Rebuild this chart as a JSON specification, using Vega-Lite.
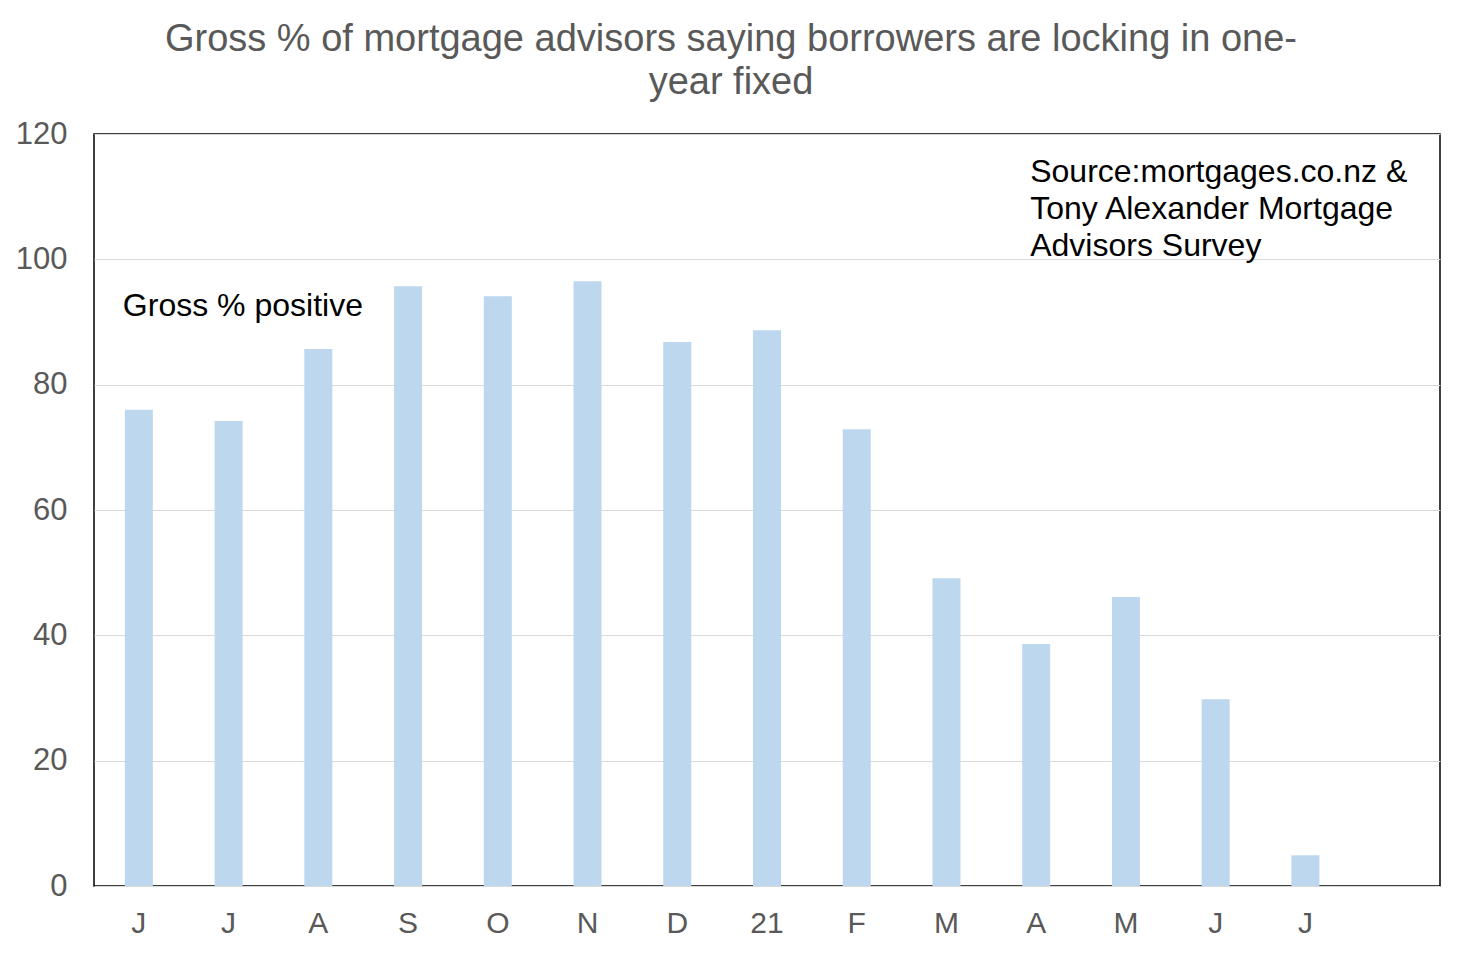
{
  "$schema": "https://vega.github.io/schema/vega-lite/v6.json",
  "width": 1346,
  "height": 752,
  "autosize": {"type": "none"},
  "padding": {"left": 94, "top": 134, "right": 22, "bottom": 68},
  "background": "white",
  "title": {
    "text": ["Gross % of mortgage advisors saying borrowers are locking in one-", "year fixed"],
    "font": "Liberation Sans",
    "fontSize": 38,
    "fontWeight": "normal",
    "color": "#595959",
    "lineHeight": 43,
    "anchor": "middle",
    "dx": -36,
    "offset": 16
  },
  "layer": [
    {
      "data": {
        "values": [
          {"month": "Jun 2020", "pct": 76.0},
          {"month": "Jul 2020", "pct": 74.2},
          {"month": "Aug 2020", "pct": 85.7},
          {"month": "Sep 2020", "pct": 95.7},
          {"month": "Oct 2020", "pct": 94.1},
          {"month": "Nov 2020", "pct": 96.5},
          {"month": "Dec 2020", "pct": 86.8},
          {"month": "Jan 2021", "pct": 88.7},
          {"month": "Feb 2021", "pct": 72.9},
          {"month": "Mar 2021", "pct": 49.1},
          {"month": "Apr 2021", "pct": 38.6},
          {"month": "May 2021", "pct": 46.1},
          {"month": "Jun 2021", "pct": 29.8},
          {"month": "Jul 2021", "pct": 4.9}
        ]
      },
      "mark": {"type": "bar", "color": "#bdd7ee"},
      "encoding": {
        "x": {
          "field": "month",
          "type": "ordinal",
          "sort": null,
          "title": null,
          "scale": {
            "domain": ["Jun 2020", "Jul 2020", "Aug 2020", "Sep 2020", "Oct 2020", "Nov 2020", "Dec 2020", "Jan 2021", "Feb 2021", "Mar 2021", "Apr 2021", "May 2021", "Jun 2021", "Jul 2021", "Aug 2021"],
            "paddingInner": 0.688,
            "paddingOuter": 0.344
          },
          "axis": {
            "labelExpr": "datum.value == 'Jan 2021' ? '21' : datum.value == 'Aug 2021' ? '' : substring(datum.value, 0, 1)",
            "labelAngle": 0,
            "labelFont": "Liberation Sans",
            "labelFontSize": 30,
            "labelColor": "#595959",
            "labelPadding": 22,
            "ticks": false,
            "domain": false,
            "grid": false
          }
        },
        "y": {
          "field": "pct",
          "type": "quantitative",
          "title": null,
          "scale": {"domain": [0, 120], "nice": false},
          "axis": {
            "values": [0, 20, 40, 60, 80, 100, 120],
            "labelFont": "Liberation Sans",
            "labelFontSize": 31,
            "labelColor": "#595959",
            "labelPadding": 27,
            "ticks": false,
            "domain": false,
            "gridColor": "#d9d9d9",
            "gridWidth": 1
          }
        }
      }
    },
    {
      "data": {
        "values": [
          {"month": "Jun 2020", "pct": 91, "note": "Gross % positive"}
        ]
      },
      "mark": {
        "type": "text",
        "align": "left",
        "baseline": "alphabetic",
        "font": "Liberation Sans",
        "fontSize": 32,
        "color": "black",
        "dx": -2
      },
      "encoding": {
        "x": {"field": "month", "type": "ordinal", "bandPosition": 0},
        "y": {"field": "pct", "type": "quantitative"},
        "text": {"field": "note"}
      }
    },
    {
      "data": {
        "values": [
          {"month": "Apr 2021", "pct": 112.3, "note": "Source:mortgages.co.nz  &\nTony Alexander  Mortgage\nAdvisors Survey"}
        ]
      },
      "mark": {
        "type": "text",
        "align": "left",
        "baseline": "alphabetic",
        "font": "Liberation Sans",
        "fontSize": 32,
        "lineHeight": 37,
        "lineBreak": "\n",
        "color": "black",
        "dx": 8
      },
      "encoding": {
        "x": {"field": "month", "type": "ordinal", "bandPosition": 0},
        "y": {"field": "pct", "type": "quantitative"},
        "text": {"field": "note"}
      }
    }
  ],
  "config": {
    "view": {"stroke": "black", "strokeWidth": 1.5}
  }
}
